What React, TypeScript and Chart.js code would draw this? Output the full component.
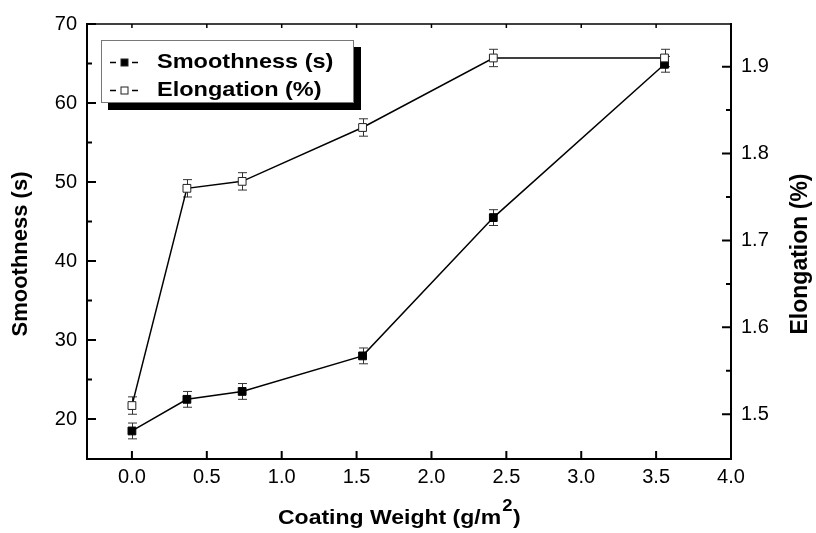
import React, { useEffect, useRef } from "react";
import { Chart, registerables } from "chart.js";

Chart.register(...registerables);

// ---- data ----
const coatingWeight = [0, 0.367, 0.736, 1.54, 2.413, 3.556];
const smoothness = [18.5, 22.5, 23.5, 28.0, 45.5, 64.9];
const smoothnessErr = [1, 1, 1, 1, 1, 1];
const elongation = [1.51, 1.76, 1.768, 1.83, 1.91, 1.91];
const elongationErr = [0.01, 0.01, 0.01, 0.01, 0.01, 0.01];

const xTicks = [0, 0.5, 1, 1.5, 2, 2.5, 3, 3.5, 4];
const leftTicks = [20, 30, 40, 50, 60, 70];
const leftMinor = [25, 35, 45, 55, 65];
const rightTicks = [1.5, 1.6, 1.7, 1.8, 1.9];
const rightMinor = [1.55, 1.65, 1.75, 1.85];

const seriesNames = ["Smoothness (s)", "Elongation (%)"];
const xTitleMain = "Coating Weight (g/m";
const xTitleSup = "2";
const xTitleEnd = ")";
const yLeftTitle = "Smoothness (s)";
const yRightTitle = "Elongation (%)";

const FONT = "'Liberation Sans', Arial, sans-serif";

const customPlugin = {
  id: "custom",
  beforeDatasetsDraw(chart: any) {
    const ctx = chart.ctx;
    const xs = chart.scales.x;
    const sets = [
      { scale: chart.scales.y, vals: smoothness, errs: smoothnessErr },
      { scale: chart.scales.y2, vals: elongation, errs: elongationErr },
    ];
    ctx.save();
    ctx.strokeStyle = "#333";
    ctx.lineWidth = 1;
    for (const s of sets) {
      for (let i = 0; i < coatingWeight.length; i++) {
        const x = Math.round(xs.getPixelForValue(coatingWeight[i])) + 0.5;
        const yt = s.scale.getPixelForValue(s.vals[i] + s.errs[i]);
        const yb = s.scale.getPixelForValue(s.vals[i] - s.errs[i]);
        ctx.beginPath();
        ctx.moveTo(x, yt);
        ctx.lineTo(x, yb);
        ctx.moveTo(x - 4.5, yt);
        ctx.lineTo(x + 4.5, yt);
        ctx.moveTo(x - 4.5, yb);
        ctx.lineTo(x + 4.5, yb);
        ctx.stroke();
      }
    }
    ctx.restore();
  },
  afterDraw(chart: any) {
    const ctx = chart.ctx;
    const { left, right, top, bottom } = chart.chartArea;
    const xs = chart.scales.x;
    const yl = chart.scales.y;
    const yr = chart.scales.y2;
    ctx.save();
    ctx.strokeStyle = "#000";
    // frame
    ctx.lineWidth = 1.5;
    ctx.beginPath();
    ctx.moveTo(left, top);
    ctx.lineTo(right, top);
    ctx.stroke();
    ctx.lineWidth = 2;
    ctx.beginPath();
    ctx.moveTo(left, top - 1);
    ctx.lineTo(left, bottom);
    ctx.lineTo(right, bottom);
    ctx.lineTo(right, top - 1);
    ctx.stroke();
    // ticks
    ctx.lineWidth = 2;
    ctx.beginPath();
    for (const v of xTicks) {
      const x = xs.getPixelForValue(v);
      ctx.moveTo(x, bottom);
      ctx.lineTo(x, bottom - 8);
    }
    for (const v of leftTicks) {
      const y = yl.getPixelForValue(v);
      ctx.moveTo(left, y);
      ctx.lineTo(left + 9, y);
    }
    for (const v of leftMinor) {
      const y = yl.getPixelForValue(v);
      ctx.moveTo(left, y);
      ctx.lineTo(left + 5, y);
    }
    for (const v of rightTicks) {
      const y = yr.getPixelForValue(v);
      ctx.moveTo(right, y);
      ctx.lineTo(right - 9, y);
    }
    for (const v of rightMinor) {
      const y = yr.getPixelForValue(v);
      ctx.moveTo(right, y);
      ctx.lineTo(right - 5, y);
    }
    ctx.stroke();
    ctx.lineWidth = 1.5;
    ctx.beginPath();
    for (const v of xTicks) {
      const x = xs.getPixelForValue(v);
      ctx.moveTo(x, top);
      ctx.lineTo(x, top + 4);
    }
    ctx.stroke();

    // axis titles
    ctx.fillStyle = "#000";
    ctx.textAlign = "center";
    ctx.textBaseline = "alphabetic";
    ctx.font = `bold 22px ${FONT}`;
    ctx.save();
    ctx.translate(27, 254);
    ctx.rotate(-Math.PI / 2);
    ctx.fillText(yLeftTitle, 0, 0);
    ctx.restore();
    ctx.save();
    ctx.font = `bold 23px ${FONT}`;
    ctx.translate(807, 254);
    ctx.rotate(-Math.PI / 2);
    ctx.fillText(yRightTitle, 0, 0);
    ctx.restore();

    ctx.save();
    ctx.textAlign = "left";
    ctx.translate(278, 524);
    ctx.scale(1.15, 1);
    ctx.font = `bold 20px ${FONT}`;
    ctx.fillText(xTitleMain, 0, 0);
    let w = ctx.measureText(xTitleMain).width;
    ctx.font = `bold 16px ${FONT}`;
    ctx.fillText(xTitleSup, w + 1, -13);
    w += ctx.measureText(xTitleSup).width + 1.5;
    ctx.font = `bold 20px ${FONT}`;
    ctx.fillText(xTitleEnd, w, 0);
    ctx.restore();

    // legend
    ctx.fillStyle = "#000";
    ctx.fillRect(108, 47, 253, 63);
    ctx.fillStyle = "#fff";
    ctx.fillRect(101, 40, 253, 63);
    ctx.strokeStyle = "#777";
    ctx.lineWidth = 1;
    ctx.strokeRect(101.5, 40.5, 252, 62);

    const rows = [
      { y: 62.5, base: 68, fill: "#000", label: seriesNames[0] },
      { y: 90.5, base: 95.5, fill: "#fff", label: seriesNames[1] },
    ];
    for (const r of rows) {
      ctx.strokeStyle = "#000";
      ctx.lineWidth = 1.5;
      ctx.beginPath();
      ctx.moveTo(110, r.y);
      ctx.lineTo(116, r.y);
      ctx.moveTo(132, r.y);
      ctx.lineTo(138, r.y);
      ctx.stroke();
      ctx.fillStyle = r.fill;
      ctx.fillRect(121, r.y - 3.5, 7, 7);
      ctx.strokeStyle = "#222";
      ctx.lineWidth = 1;
      ctx.strokeRect(121, r.y - 3.5, 7, 7);
      ctx.save();
      ctx.fillStyle = "#000";
      ctx.textAlign = "left";
      ctx.font = `bold 21px ${FONT}`;
      ctx.translate(157, r.base);
      ctx.scale(1.12, 1);
      ctx.fillText(r.label, 0, 0);
      ctx.restore();
    }
    ctx.restore();
  },
};

export default function App() {
  const ref = useRef<HTMLCanvasElement | null>(null);
  useEffect(() => {
    if (!ref.current) return;
    const tickFont = { family: FONT, size: 20 };
    const chart = new Chart(ref.current, {
      type: "line",
      data: {
        datasets: [
          {
            label: seriesNames[1],
            data: coatingWeight.map((x, i) => ({ x, y: elongation[i] })),
            yAxisID: "y2",
            borderColor: "#000",
            borderWidth: 1.5,
            pointStyle: "rect",
            pointRadius: 5.5,
            pointBackgroundColor: "#fff",
            pointBorderColor: "#222",
            pointBorderWidth: 1,
            tension: 0,
            order: 0,
          },
          {
            label: seriesNames[0],
            data: coatingWeight.map((x, i) => ({ x, y: smoothness[i] })),
            yAxisID: "y",
            borderColor: "#000",
            borderWidth: 1.5,
            pointStyle: "rect",
            pointRadius: 5.5,
            pointBackgroundColor: "#000",
            pointBorderColor: "#000",
            pointBorderWidth: 1,
            tension: 0,
            order: 1,
          },
        ],
      },
      options: {
        responsive: false,
        animation: false,
        layout: { padding: { top: 24, left: 0, right: 0, bottom: 0 } },
        plugins: { legend: { display: false }, tooltip: { enabled: false } },
        scales: {
          x: {
            type: "linear",
            min: -0.3,
            max: 4.0,
            afterBuildTicks: (s: any) => {
              s.ticks = xTicks.map((v) => ({ value: v }));
            },
            afterFit: (s: any) => {
              s.height = 74;
            },
            grid: { display: false, drawTicks: false },
            border: { display: false },
            ticks: {
              padding: 6,
              autoSkip: false,
              maxRotation: 0,
              color: "#000",
              font: tickFont,
              callback: (v: any) => Number(v).toFixed(1),
            },
          },
          y: {
            type: "linear",
            position: "left",
            min: 14.95,
            max: 70,
            afterBuildTicks: (s: any) => {
              s.ticks = leftTicks.map((v) => ({ value: v }));
            },
            afterFit: (s: any) => {
              s.width = 87;
            },
            grid: { display: false, drawTicks: false },
            border: { display: false },
            ticks: {
              padding: 10,
              color: "#000",
              font: tickFont,
              callback: (v: any) => String(v),
            },
          },
          y2: {
            type: "linear",
            position: "right",
            min: 1.4485,
            max: 1.9491,
            afterBuildTicks: (s: any) => {
              s.ticks = rightTicks.map((v) => ({ value: v }));
            },
            afterFit: (s: any) => {
              s.width = 85;
            },
            grid: { display: false, drawTicks: false },
            border: { display: false },
            ticks: {
              padding: 10,
              color: "#000",
              font: tickFont,
              callback: (v: any) => Number(v).toFixed(1),
            },
          },
        },
      },
      plugins: [customPlugin],
    } as any);
    return () => chart.destroy();
  }, []);
  return (
    <div style={{ position: "absolute", left: 0, top: 0, width: 816, height: 533, background: "#fff" }}>
      <canvas ref={ref} width={816} height={533} style={{ display: "block" }} />
    </div>
  );
}
